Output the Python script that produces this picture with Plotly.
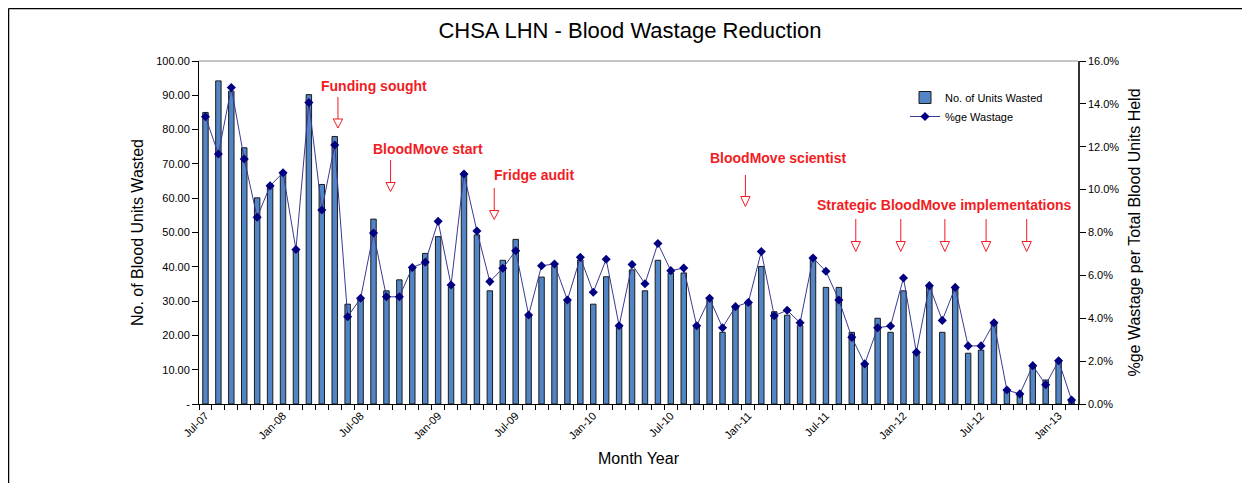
import plotly.graph_objects as go

# ---- data ----
month_labels = [
    "Jul-07","Aug-07","Sep-07","Oct-07","Nov-07","Dec-07",
    "Jan-08","Feb-08","Mar-08","Apr-08","May-08","Jun-08",
    "Jul-08","Aug-08","Sep-08","Oct-08","Nov-08","Dec-08",
    "Jan-09","Feb-09","Mar-09","Apr-09","May-09","Jun-09",
    "Jul-09","Aug-09","Sep-09","Oct-09","Nov-09","Dec-09",
    "Jan-10","Feb-10","Mar-10","Apr-10","May-10","Jun-10",
    "Jul-10","Aug-10","Sep-10","Oct-10","Nov-10","Dec-10",
    "Jan-11","Feb-11","Mar-11","Apr-11","May-11","Jun-11",
    "Jul-11","Aug-11","Sep-11","Oct-11","Nov-11","Dec-11",
    "Jan-12","Feb-12","Mar-12","Apr-12","May-12","Jun-12",
    "Jul-12","Aug-12","Sep-12","Oct-12","Nov-12","Dec-12",
    "Jan-13","Feb-13",
]
units_wasted = [
    85.0, 94.2, 91.2, 74.7, 60.1, 63.8, 67.4, 45.1, 90.2, 64.0,
    78.0, 29.1, 31.1, 53.9, 33.0, 36.2, 39.8, 43.9, 48.8, 34.1,
    67.1, 49.3, 33.0, 41.9, 48.0, 26.1, 37.0, 40.2, 30.3, 42.0,
    29.1, 37.1, 22.8, 39.1, 33.0, 41.9, 38.2, 38.2, 22.8, 30.3,
    20.9, 28.1, 29.2, 40.1, 26.9, 25.9, 22.9, 42.3, 34.0, 34.0,
    20.9, 11.9, 25.0, 20.9, 33.0, 15.1, 34.5, 20.9, 34.0, 14.8,
    15.7, 23.7, 4.1, 2.9, 11.2, 7.0, 12.6, 1.2,
]
pct_wastage = [
    13.40, 11.66, 14.76, 11.43, 8.71, 10.18, 10.79, 7.21, 14.06, 9.05,
    12.08, 4.07, 4.93, 7.98, 5.00, 5.00, 6.37, 6.61, 8.52, 5.55,
    10.73, 8.07, 5.71, 6.33, 7.15, 4.15, 6.45, 6.53, 4.85, 6.84,
    5.21, 6.75, 3.65, 6.51, 5.61, 7.49, 6.22, 6.34, 3.65, 4.93,
    3.56, 4.54, 4.74, 7.11, 4.12, 4.37, 3.79, 6.81, 6.19, 4.85,
    3.11, 1.87, 3.56, 3.64, 5.88, 2.41, 5.52, 3.90, 5.44, 2.71,
    2.71, 3.79, 0.65, 0.47, 1.79, 0.90, 2.02, 0.19,
]
tick_labels = ["Jul-07","Jan-08","Jul-08","Jan-09","Jul-09","Jan-10",
               "Jul-10","Jan-11","Jul-11","Jan-12","Jul-12","Jan-13"]
left_ticks = [0, 10, 20, 30, 40, 50, 60, 70, 80, 90, 100]
left_tick_text = ["-", "10.00", "20.00", "30.00", "40.00", "50.00",
                  "60.00", "70.00", "80.00", "90.00", "100.00"]

# events: label, arrow x positions (month index), text centre x, text centre y (page px)
events = [
    ("Funding sought", [10.25], 13.06, 86),
    ("BloodMove start", [14.32], 17.2, 149),
    ("Fridge audit", [22.34], 25.4, 175),
    ("BloodMove scientist", [41.77], 44.3, 158),
    ("Strategic BloodMove implementations", [50.31, 53.79, 57.2, 60.39, 63.53], 57.2, 205),
]
arrow_rows = {
    "Funding sought": (97, 119, 128),
    "BloodMove start": (160, 182.5, 191.5),
    "Fridge audit": (188, 210.5, 219.5),
    "BloodMove scientist": (175, 196.5, 206.5),
    "Strategic BloodMove implementations": (219, 241.5, 251.5),
}

FONT = "Liberation Sans, Arial, sans-serif"
OX, OY = 8, 8                     # page offset of the figure (body margin)
PAGE_W, PAGE_H = 1250, 483
PLOT_L, PLOT_R, PLOT_T, PLOT_B = 199, 1078, 61, 404   # page px of plot area
W, H = PAGE_W - OX, PAGE_H - OY
L, T = PLOT_L - OX, PLOT_T - OY
R, B = PAGE_W - PLOT_R, PAGE_H - PLOT_B
PW, PH = PLOT_R - PLOT_L, PLOT_B - PLOT_T

def py(ypx):
    return (PLOT_B - ypx) / PH

def px(xpx):
    return (xpx - PLOT_L) / PW

x_idx = list(range(len(month_labels)))
tick_idx = [month_labels.index(t) for t in tick_labels]

fig = go.Figure()
fig.add_trace(go.Bar(
    x=x_idx, y=units_wasted, name="No. of Units Wasted",
    marker=dict(color="#5285C6", line=dict(color="#1a1a1a", width=1)),
    customdata=month_labels,
    hovertemplate="%{customdata}: %{y}<extra></extra>",
))
fig.add_trace(go.Scatter(
    x=x_idx, y=pct_wastage, name="%ge Wastage", yaxis="y2",
    mode="lines+markers",
    line=dict(color="#3a3a92", width=1),
    marker=dict(symbol="diamond", size=7, color="#000080"),
    customdata=month_labels,
    hovertemplate="%{customdata}: %{y:.1f}%<extra></extra>",
))

shapes = []
annotations = []
red = "#F21C24"
for label, xs, tx, ty in events:
    annotations.append(dict(
        x=tx, xref="x", y=py(ty), yref="paper", text="<b>%s</b>" % label,
        showarrow=False, font=dict(family=FONT, size=14, color=red),
        xanchor="center", yanchor="middle",
    ))
    y0, y1, y2 = arrow_rows[label]
    for xv in xs:
        shapes.append(dict(type="line", xref="x", yref="paper",
                           x0=xv, x1=xv, y0=py(y0), y1=py(y1),
                           line=dict(color=red, width=1)))
        hw = 0.36
        shapes.append(dict(type="path", xref="x", yref="paper",
                           path="M %f,%f L %f,%f L %f,%f Z" % (
                               xv - hw, py(y1), xv + hw, py(y1), xv, py(y2)),
                           line=dict(color=red, width=1), fillcolor="white"))

# outer chart border (top and left)
shapes.append(dict(type="line", xref="paper", yref="paper",
                   x0=px(8.5), x1=px(1250), y0=py(8.5), y1=py(8.5),
                   line=dict(color="black", width=1.5)))
shapes.append(dict(type="line", xref="paper", yref="paper",
                   x0=px(8.5), x1=px(8.5), y0=py(8.5), y1=py(483),
                   line=dict(color="black", width=1.5)))
# top border of plot area
shapes.append(dict(type="line", xref="paper", yref="paper",
                   x0=0, x1=1, y0=1, y1=1, line=dict(color="#8c8c8c", width=1)))

fig.update_layout(
    width=W, height=H,
    margin=dict(l=L, r=R, t=T, b=B),
    paper_bgcolor="white", plot_bgcolor="white",
    font=dict(family=FONT, size=11, color="black"),
    title=dict(text="CHSA LHN - Blood Wastage Reduction", x=px(630) * PW / W + L / W,
               xanchor="center", y=1 - (30 - OY) / H, yanchor="middle",
               font=dict(family=FONT, size=22, color="black")),
    bargap=0.58,
    showlegend=True,
    legend=dict(x=px(905), y=py(83), xanchor="left", yanchor="top",
                bgcolor="rgba(0,0,0,0)", font=dict(family=FONT, size=11),
                itemwidth=30, tracegroupgap=10),
    xaxis=dict(
        range=[-0.5, len(month_labels) - 0.5],
        tickmode="array", tickvals=tick_idx, ticktext=tick_labels,
        tickangle=-45, ticks="", showgrid=False, zeroline=False,
        showline=True, linecolor="black", linewidth=1,
        tickfont=dict(family=FONT, size=11),
        minor=dict(tickmode="linear", tick0=-0.5, dtick=1, ticks="outside",
                   ticklen=5, tickcolor="black", showgrid=False),
        title=dict(text="Month Year", font=dict(family=FONT, size=16), standoff=12),
    ),
    yaxis=dict(
        range=[0, 100], tickmode="array", tickvals=left_ticks, ticktext=left_tick_text,
        ticks="outside", ticklen=6, tickcolor="black", showgrid=False, zeroline=False,
        showline=True, linecolor="black", linewidth=1,
        tickfont=dict(family=FONT, size=11),
        title=dict(text="No. of Blood Units Wasted", font=dict(family=FONT, size=16), standoff=8),
    ),
    yaxis2=dict(
        range=[0, 16], overlaying="y", side="right", dtick=2,
        tickformat=".1f", ticksuffix="%",
        ticks="outside", ticklen=6, tickcolor="black", showgrid=False, zeroline=False,
        showline=True, linecolor="#333333", linewidth=1.5,
        tickfont=dict(family=FONT, size=11),
        title=dict(text="%ge Wastage per Total Blood Units Held",
                   font=dict(family=FONT, size=16), standoff=10),
    ),
    shapes=shapes,
    annotations=annotations,
)

fig.write_html("out.html")
